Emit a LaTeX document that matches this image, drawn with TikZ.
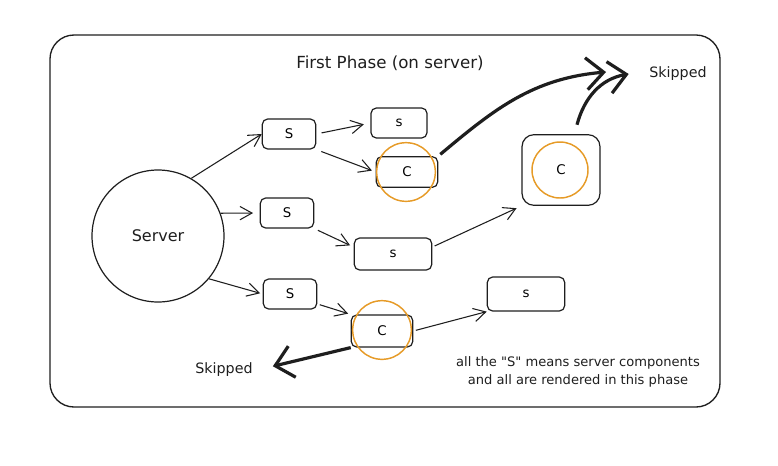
\documentclass[tikz,border=0pt]{standalone}
\usepackage{fontspec}
\setmainfont{DejaVu Sans}[Ligatures=TeXOff]
\usetikzlibrary{arrows.meta, positioning}
\definecolor{inkblack}{RGB}{30, 30, 30}
\definecolor{ringorange}{RGB}{230, 155, 40}

\begin{document}
\begin{tikzpicture}[
  x=0.75pt, y=-0.75pt,
  box/.style={draw=inkblack, line width=0.9pt, rounded corners=4pt, minimum width=40pt,
              minimum height=22.5pt, inner sep=0pt, font=\fontsize{10}{12}\selectfont},
  widebox/.style={box, minimum width=58pt, minimum height=24pt},
  cbox/.style={box, minimum width=46pt, minimum height=23pt},
  ring/.style={draw=ringorange, line width=1.1pt, circle, minimum size=44pt, inner sep=0pt},
  arr/.style={-{Straight Barb[length=9pt, width=10pt]}, line width=0.8pt, inkblack},
  skiparr/.style={-{Straight Barb[length=13pt, width=24pt]}, line width=2.4pt, inkblack},
  lbl/.style={font=\fontsize{11}{13}\selectfont, text=inkblack},
]
\useasboundingbox (0,0) rectangle (778,465);

% Frame and title
\draw[inkblack, line width=1pt, rounded corners=18pt] (50,35) rectangle (720,407);
\node[lbl, font=\fontsize{12.5}{15}\selectfont] (title) at (390,63) {First Phase (on server)};

\node[draw=inkblack, line width=0.9pt, circle, minimum size=99pt, lbl,
      font=\fontsize{12}{14}\selectfont] (server) at (158,236) {Server};

% Top branch
\node[box] (s1) at (289,134) {S};
\node[box, minimum width=42pt] (stop) at (399,123) {s};
\node[cbox] (c1) at (407,172) {C};
\node[ring] (c1ring) at (406,172) {};

% Middle branch
\node[box] (s2) at (287,213) {S};
\node[widebox] (smid) at (393,254) {s};
\node[box, minimum width=58.5pt, minimum height=53pt, rounded corners=9pt] (bigc) at (561,170) {C};
\node[ring, minimum size=42pt] (bigcring) at (560,170) {};

% Bottom branch
\node[box] (s3) at (290,294) {S};
\node[cbox, minimum height=24pt] (c2) at (382,331) {C};
\node[ring] (c2ring) at (382,330) {};
\node[widebox, minimum height=25.5pt] (sbot) at (526,294) {s};

\node[lbl, font=\fontsize{10.7}{13}\selectfont] (skiptop) at (678,74) {Skipped};
\node[lbl, font=\fontsize{10.7}{13}\selectfont] (skipbot) at (224,370) {Skipped};

\draw[arr] (server.60) -- (s1.west);
\draw[arr, shorten >=5pt] (server.20) -- (s2.west);
\draw[arr, shorten >=2pt] (server.-40) -- (s3.west);
\draw[arr, shorten <=4pt, shorten >=5pt] (s1.east) -- (stop.west);
\draw[arr, shorten <=4pt, shorten >=3pt] (s1.south east) -- (c1.west);
\draw[arr, shorten <=3pt, shorten >=3pt] (s2.south east) -- (smid.170);
\draw[arr, shorten <=2pt, shorten >=4pt] (smid.10) -- (bigc.south west);
\draw[arr, shorten <=2pt, shorten >=2pt] (s3.-20) -- (c2.north west);
\draw[arr, shorten <=2pt] (c2.east) -- (sbot.south west);

% Skipped client parts
\coordinate (skipend) at (606,72);
\draw[skiparr, shorten <=2pt] (c1.north east) to[out=40, in=185] (skipend);
\draw[skiparr] ([xshift=12pt, yshift=7pt]bigc.north) to[out=75, in=190] ([xshift=-12pt]skiptop.west);
\draw[skiparr, shorten >=12pt] (c2.south west) -- (skipbot.east);

\node[lbl, font=\fontsize{9.8}{13.5}\selectfont, align=center] (note) at (578,372)
  {all the "S" means server components\\and all are rendered in this phase};
\end{tikzpicture}
\end{document}
